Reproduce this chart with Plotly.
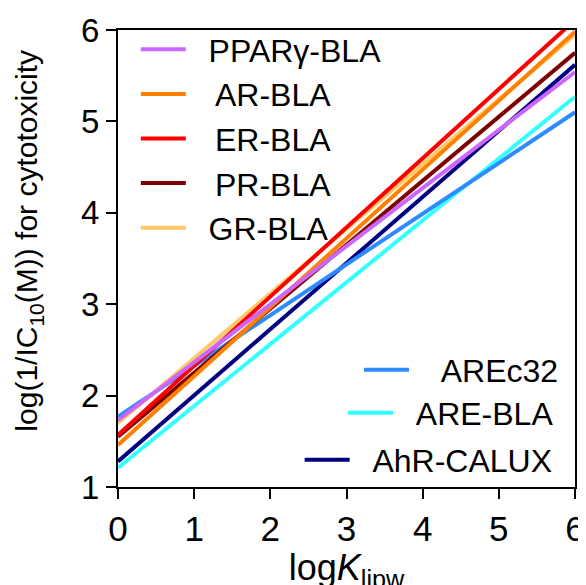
import plotly.graph_objects as go

# logKlipw range of the regression lines
log_k = [0, 6]

series_names = ["PPARγ-BLA", "AR-BLA", "ER-BLA", "PR-BLA", "GR-BLA",
                "AREc32", "ARE-BLA", "AhR-CALUX"]
# log(1/IC10) read at logK = 0 and logK = 6
y_at_0 = [1.73, 1.46, 1.57, 1.55, 1.70, 1.77, 1.21, 1.28]
y_at_6 = [5.54, 5.98, 6.11, 5.75, 5.95, 5.10, 5.27, 5.62]

colors = ["#CC66FF", "#FF8000", "#FF0000", "#800000", "#FFC966",
          "#2E8BFF", "#33FFFF", "#000080"]
legend_ids = ["legend", "legend", "legend", "legend", "legend",
              "legend2", "legend3", "legend4"]
# drawing order (bottom -> top)
draw_order = [7, 6, 5, 4, 3, 1, 2, 0]

FONT = "Liberation Sans, Arial, sans-serif"
NB = "\u00a0"
TH = "\u2009"
lead = {"PPARγ-BLA": NB + NB, "AR-BLA": NB + NB + TH, "ER-BLA": NB + NB + TH,
        "PR-BLA": NB + NB + TH, "GR-BLA": NB + NB,
        "AREc32": NB + NB + NB, "ARE-BLA": NB + NB, "AhR-CALUX": NB + NB}

fig = go.Figure()
for i in draw_order:
    name = series_names[i]
    fig.add_trace(go.Scatter(
        x=log_k, y=[y_at_0[i], y_at_6[i]], mode="lines",
        name=lead.get(name, "") + name,
        line=dict(color=colors[i], width=4),
        legend=legend_ids[i], legendrank=i + 1,
    ))

small_legend = dict(xanchor="right", yanchor="middle",
                    bgcolor="rgba(0,0,0,0)", font=dict(size=32),
                    itemwidth=45)
fig.update_layout(
    width=586, height=585,
    margin=dict(l=110, r=19, t=22, b=106),
    paper_bgcolor="white", plot_bgcolor="white",
    font=dict(family=FONT, size=30, color="black"),
    showlegend=True,
    legend=dict(x=0.039, y=1.0175, xanchor="left", yanchor="top",
                bgcolor="rgba(0,0,0,0)", font=dict(size=32),
                itemwidth=45, tracegroupgap=0, traceorder="normal"),
    legend2=dict(small_legend, x=0.976, y=0.256),
    legend3=dict(small_legend, x=0.965, y=0.162),
    legend4=dict(small_legend, x=0.962, y=0.059),
    annotations=[dict(
        text="log(1/IC<sub>10</sub>(M)) for cytotoxicity",
        xref="paper", yref="paper", x=-0.196, y=0.54,
        xanchor="center", yanchor="middle", textangle=-90,
        showarrow=False, font=dict(size=30),
    )],
)
fig.update_xaxes(
    range=[0, 6], dtick=1, tick0=0, showgrid=False, zeroline=False,
    showline=True, linecolor="black", linewidth=2, mirror=True,
    ticks="outside", ticklen=10, tickwidth=2, tickcolor="black",
    tickfont=dict(size=35), automargin=False,
    title=dict(text="log<i>K</i><sub>lipw</sub>", font=dict(size=36), standoff=4),
)
fig.update_yaxes(
    range=[1, 6], dtick=1, tick0=1, showgrid=False, zeroline=False,
    showline=True, linecolor="black", linewidth=2, mirror=True,
    ticks="outside", ticklen=10, tickwidth=2, tickcolor="black",
    tickfont=dict(size=33), automargin=False,
)

fig.write_html("out.html")
